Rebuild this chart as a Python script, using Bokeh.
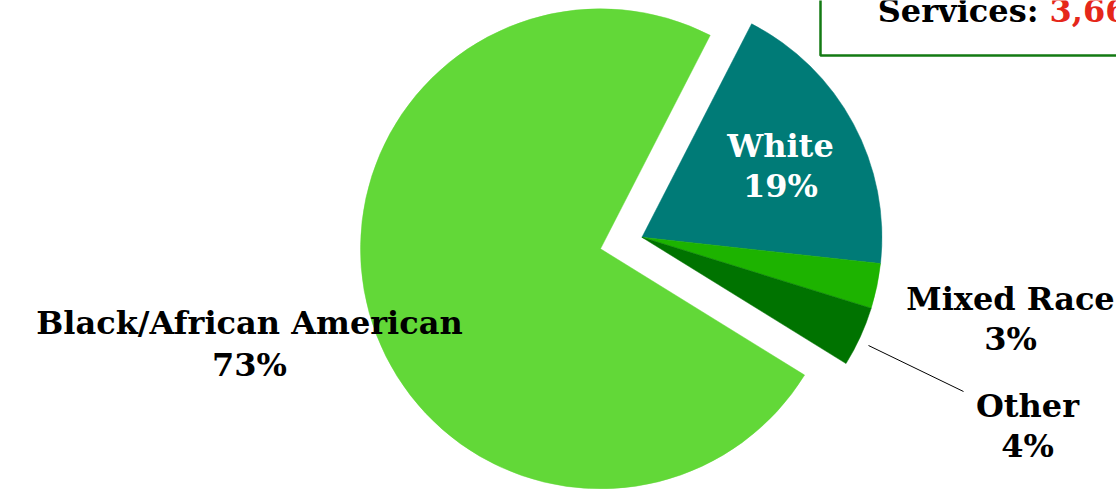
import math
from bokeh.plotting import figure
from bokeh.models import Range1d
from bokeh.core.properties import value
from bokeh.embed import file_html
from bokeh.resources import INLINE

# ---- data ----
categories = ["White", "Mixed Race", "Other", "Black/African American"]
percents = [19, 3, 4, 73]
colors = ["#007b77", "#1db300", "#007300", "#62d838"]
exploded = [True, True, True, False]
title_label = "Services:"
title_value = "3,660"

# ---- layout ----
W, H = 1116, 489
FONT = "DejaVu Serif"
FS = "32px"
start_deg = 62.8          # start of first slice (degrees, math orientation), clockwise order
center = (600.0, H - 248.3)
radius = 240.0
explode_dist = 43.0

def sy(y_screen):
    return H - y_screen

def sx(x_screen):
    return x_screen

p = figure(width=W, height=H, output_backend="svg", toolbar_location=None,
           x_range=Range1d(0, W), y_range=Range1d(0, H), min_border=0)
p.axis.visible = False
p.grid.visible = False
p.outline_line_color = None
p.background_fill_color = "white"

total = float(sum(percents))
angles = []
a = math.radians(start_deg)
for v in percents:
    span = 2 * math.pi * v / total
    angles.append((a - span, a))
    a -= span
ex_start = min(angles[i][0] for i in range(len(percents)) if exploded[i])
ex_end = max(angles[i][1] for i in range(len(percents)) if exploded[i])
mid = (ex_start + ex_end) / 2
dx, dy = explode_dist * math.cos(mid), explode_dist * math.sin(mid)

for i, v in enumerate(percents):
    s, e = angles[i]
    cx, cy = center
    if exploded[i]:
        cx, cy = cx + dx, cy + dy
    p.wedge(x=cx, y=cy, radius=radius, start_angle=s, end_angle=e,
            fill_color=colors[i], line_color=colors[i], line_width=0.5)

# labels (screen positions of label centres)
label_pos = {
    "White": (780, 145, 185, "white"),
    "Mixed Race": (1010, 298, 338, "black"),
    "Other": (1027, 405, 445, "black"),
    "Black/African American": (249, 322, 364, "black"),
}
for cat, pct in zip(categories, percents):
    x, y1, y2, col = label_pos[cat]
    p.text(x=[sx(x)], y=[sy(y1)], text=[cat], text_font=value(FONT), text_font_style="bold",
           text_font_size=FS, text_color=col, text_align="center", text_baseline="middle")
    p.text(x=[sx(x)], y=[sy(y2)], text=[f"{pct}%"], text_font=value(FONT), text_font_style="bold",
           text_font_size=FS, text_color=col, text_align="center", text_baseline="middle")

# connector for "Other"
p.line(x=[sx(868), sx(963)], y=[sy(345), sy(391)], line_color="black", line_width=1)

# title box (partly off-canvas)
p.quad(left=sx(820), right=sx(1400), top=sy(-200), bottom=sy(55),
       fill_color="white", line_color="#137a13", line_width=2.5)
p.text(x=[sx(1038)], y=[sy(10)], text=[title_label], text_font=value(FONT), text_font_style="bold",
       text_font_size=FS, text_color="black", text_align="right", text_baseline="middle")
p.text(x=[sx(1049)], y=[sy(10)], text=[title_value], text_font=value(FONT), text_font_style="bold",
       text_font_size=FS, text_color="#e5271a", text_align="left", text_baseline="middle")

open("out.html", "w").write(file_html(p, INLINE))
